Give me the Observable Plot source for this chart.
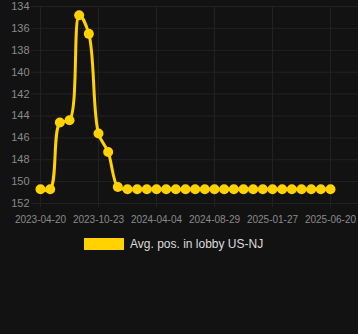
<!DOCTYPE html>
<html>
<head>
<meta charset="utf-8">
<script src="https://cdn.jsdelivr.net/npm/d3@7"></script>
<script src="https://cdn.jsdelivr.net/npm/@observablehq/plot@0.6"></script>
<style>
  html, body { margin: 0; padding: 0; background: #121212; }
  body { width: 358px; height: 334px; position: relative; overflow: hidden; font-family: "Liberation Sans", Arial, sans-serif; }
  #chart { position: absolute; left: 0; top: 0; }
  #legend { position: absolute; left: 84px; top: 237px; display: flex; align-items: center; }
  #legend .box { width: 40px; height: 12px; background: #FFD200; }
  #legend .lbl { margin-left: 6px; font-size: 12px; color: #dddddd; }
</style>
</head>
<body>
<div id="chart"></div>
<div id="legend"><div class="box"></div><div class="lbl">Avg. pos. in lobby US-NJ</div></div>
<script>
const seriesName = "Avg. pos. in lobby US-NJ";
const positions = [150.7, 150.7, 144.6, 144.4, 134.8, 136.5, 145.6, 147.3, 150.5,
  150.7, 150.7, 150.7, 150.7, 150.7, 150.7, 150.7, 150.7, 150.7, 150.7, 150.7,
  150.7, 150.7, 150.7, 150.7, 150.7, 150.7, 150.7, 150.7, 150.7, 150.7, 150.7];
const tickIndices = [0, 6, 12, 18, 24, 30];
const tickLabels = ["2023-04-20", "2023-10-23", "2024-04-04", "2024-08-29", "2025-01-27", "2025-06-20"];
const yTicks = [134, 136, 138, 140, 142, 144, 146, 148, 150, 152];

const data = positions.map((v, i) => ({i, v}));
const gridColor = "#222222";
const textColor = "#8a8a8a";
const lineColor = "#FFD200";

const chart = Plot.plot({
  width: 358,
  height: 232,
  marginLeft: 31,
  marginRight: 0,
  marginTop: 6,
  marginBottom: 29,
  style: {background: "#121212", fontFamily: "'Liberation Sans', Arial, sans-serif"},
  x: {domain: [0, 30], range: [40, 330]},
  y: {domain: [134, 152], reverse: true},
  marks: [
    Plot.gridY(yTicks, {stroke: gridColor, strokeOpacity: 1, strokeWidth: 1}),
    Plot.gridX(tickIndices, {stroke: gridColor, strokeOpacity: 1, strokeWidth: 1}),
    Plot.axisY(yTicks, {tickSize: 0, tickPadding: 2, fontSize: 11, fill: textColor, label: null}),
    Plot.axisX(tickIndices, {tickSize: 4, tickPadding: 8, fontSize: 10, stroke: gridColor, fill: textColor,
      tickFormat: (d) => tickLabels[tickIndices.indexOf(d)], label: null}),
    Plot.line(data, {x: "i", y: "v", stroke: lineColor, strokeWidth: 3, curve: "catmull-rom"}),
    Plot.dot(data, {x: "i", y: "v", r: 5, fill: lineColor, stroke: null, title: d => `${seriesName}: ${d.v}`})
  ]
});
document.getElementById("chart").appendChild(chart);
</script>
</body>
</html>
